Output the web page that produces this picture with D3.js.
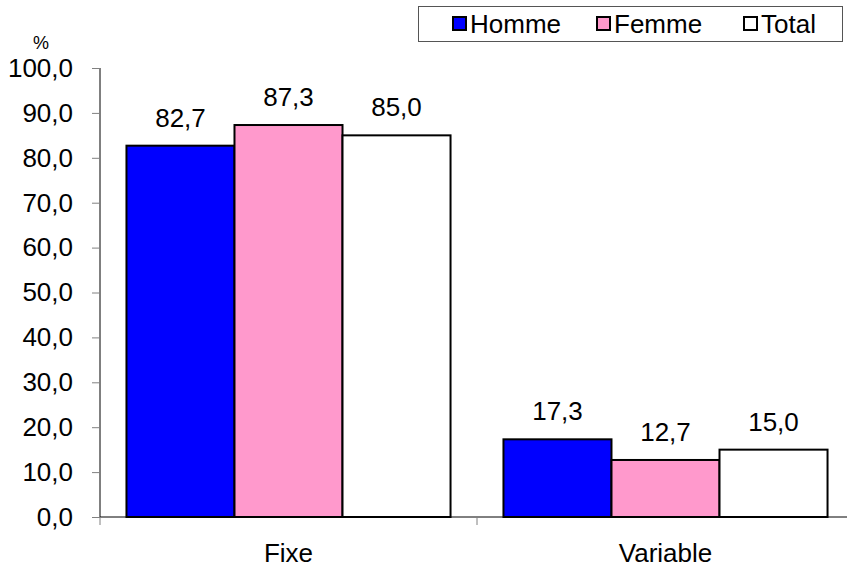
<!DOCTYPE html>
<html><head><meta charset="utf-8">
<script src="https://cdn.jsdelivr.net/npm/d3@7"></script>
<style>body{margin:0;background:#fff}text{font-family:"Liberation Sans",Arial,sans-serif}</style>
</head><body><svg id="c" width="847" height="569"></svg>
<script>
const categories = ["Fixe", "Variable"];
const seriesNames = ["Homme", "Femme", "Total"];
const homme = [82.7, 17.3];
const femme = [87.3, 12.7];
const total = [85.0, 15.0];
const yTicks = [0, 10, 20, 30, 40, 50, 60, 70, 80, 90, 100];
const colors = ["#0000ff", "#ff99cc", "#ffffff"];

(function () {
const series = [homme, femme, total];
const fmt = v => v.toFixed(1).replace(".", ",");
const svg = d3.select("#c");
const pL = 100, pR = 854, pT = 68, pB = 517;
const y = d3.scaleLinear().domain([0, 100]).range([pB, pT]);
const x0 = d3.scaleBand().domain(categories).range([pL, pR]).paddingInner(0).paddingOuter(0);
const x1 = d3.scaleBand().domain(seriesNames).range([0, x0.bandwidth()]).paddingOuter(0.245).paddingInner(0);
const FS = 26;

// y axis
const yAxis = d3.axisLeft(y).tickValues(yTicks).tickFormat(fmt).tickSize(8).tickPadding(19);
const ga = svg.append("g").attr("transform", `translate(${pL},0)`).call(yAxis);
ga.select(".domain").attr("stroke", "#000").attr("stroke-width", 1).attr("d", `M0,${pT}V${pB}`);
ga.selectAll(".tick line").attr("stroke", "#808080");
ga.selectAll(".tick text").attr("font-size", FS).attr("fill", "#000").attr("font-family", "Liberation Sans, Arial, sans-serif");

svg.append("text").attr("x", 41).attr("y", 49).attr("text-anchor", "middle").attr("font-size", 18).text("%");

// bars
const g = svg.append("g");
categories.forEach((c, ci) => {
  series.forEach((s, si) => {
    const bx = x0(c) + x1(seriesNames[si]);
    g.append("rect").attr("x", bx).attr("y", y(s[ci])).attr("width", x1.bandwidth()).attr("height", pB - y(s[ci]))
      .attr("fill", colors[si]).attr("stroke", "#000").attr("stroke-width", 2);
    g.append("text").attr("x", bx + x1.bandwidth() / 2).attr("y", y(s[ci]) - 19).attr("text-anchor", "middle")
      .attr("font-size", FS).text(fmt(s[ci]));
  });
});

// x axis
const xAxis = d3.axisBottom(x0).tickSize(0).tickPadding(27);
const gx = svg.append("g").attr("transform", `translate(0,${pB})`).call(xAxis);
gx.select(".domain").attr("stroke", "#000").attr("d", `M${pL},0H847`);
gx.selectAll(".tick text").attr("font-size", FS).attr("fill", "#000").attr("font-family", "Liberation Sans, Arial, sans-serif");
[pL, pL + x0.bandwidth()].forEach(t => {
  svg.append("line").attr("x1", t).attr("x2", t).attr("y1", pB).attr("y2", pB + 8).attr("stroke", "#808080");
});

// legend
const lg = svg.append("g");
lg.append("rect").attr("x", 418.5).attr("y", 6.5).attr("width", 424).attr("height", 35).attr("fill", "#fff").attr("stroke", "#555").attr("stroke-width", 1);
const lx = [453, 597, 744];
seriesNames.forEach((n, i) => {
  lg.append("rect").attr("x", lx[i]).attr("y", 17).attr("width", 13).attr("height", 13).attr("fill", colors[i]).attr("stroke", "#000").attr("stroke-width", 2);
  lg.append("text").attr("x", lx[i] + 17).attr("y", 33).attr("font-size", FS).text(n);
});
})();
</script></body></html>
